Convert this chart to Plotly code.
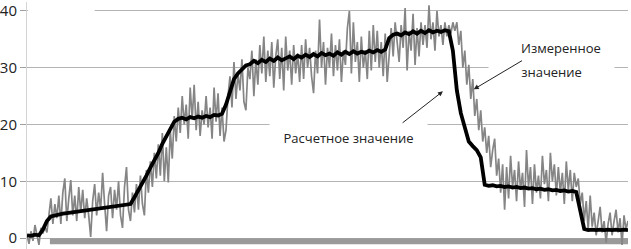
import plotly.graph_objects as go

# Measured value (grey, noisy), one sample every step
measured = [
    # start
    0.5, -1.0, 1.2, -0.5, 2.3, 0.2, -1.2, 1.8, 0.8,
    2.0, 1.0, 4.0, 7.0, 2.5,
    # low plateau
    6.0, 3.5, 7.5, 2.5, 8.0, 10.5, 3.0, 7.0, 10.2, 4.0,
    7.5, 3.0, 9.0, 4.5, 8.5, 3.5, 7.0, 4.0, 0.2, 6.5,
    9.5, 4.0, 8.0, 5.0, 11.5, 6.0, 1.2, 7.5, 9.0, 3.5,
    8.5, 5.0, 10.0, 4.0, 1.8, 9.0, 12.5, 5.0,
    # first ramp
    3.0, 8.0, 4.5, 9.5, 5.0, 11.0, 6.0, 4.0, 12.0, 8.0,
    13.5, 9.0, 15.0, 10.5, 16.5, 11.0, 18.5, 10.0, 16.0, 9.8,
    19.0, 14.0, 21.5,
    # ~21 plateau
    17.0, 23.0, 18.5, 25.0, 20.0, 23.5, 17.5, 26.5, 21.0, 27.0,
    19.0, 24.0, 18.0, 22.5, 20.0, 25.0, 19.5, 23.0, 17.5, 26.5,
    20.5, 25.5, 18.0, 23.0, 17.0,
    # second ramp
    19.0, 25.0, 28.5, 23.0, 31.0, 24.5, 29.0, 26.0, 31.5, 24.0,
    22.5, 30.0,
    # ~31 plateau
    28.0, 33.0, 25.0, 31.5, 27.0, 34.0, 29.0, 35.5, 27.5, 33.0,
    28.5, 34.5, 26.5, 32.0, 35.0, 28.0, 33.5, 26.0, 35.5, 29.5,
    33.0, 27.0, 34.0, 29.0, 32.5, 27.5, 34.0, 28.0, 35.0, 30.0,
    33.5, 28.5, 25.5, 33.0, 29.0, 38.5, 30.0, 34.5, 27.0, 33.5,
    30.0, 36.0, 28.5, 34.0, 29.5, 35.0, 27.5, 33.0, 30.5, 37.0,
    40.0, 29.0, 38.0, 31.0, 34.5, 27.5, 35.5, 30.0, 33.0, 28.0,
    36.5, 29.5, 37.5, 31.0, 36.5, 30.0, 34.5, 28.5, 36.0, 27.5,
    33.0,
    # ~36 plateau
    37.0, 32.0, 38.0, 34.5, 31.0, 37.5, 33.5, 40.5, 29.5, 36.5,
    33.0, 39.5, 30.5, 37.0, 32.0, 38.0, 34.0, 37.5, 33.5, 41.0,
    35.0, 38.0, 33.0, 40.0, 35.5, 37.5, 34.0, 38.0, 35.5, 37.5,
    36.0, 38.0,
    # fall
    36.5, 38.0, 34.0, 36.5, 30.0, 33.0, 27.0, 30.5, 24.5, 28.0,
    21.5, 24.5, 19.0, 22.5, 17.0, 19.5, 15.0, 18.0, 12.5, 15.5,
    # ~10 plateau
    17.5, 11.0, 14.0, 8.0, 13.0, 5.0, 12.5, 7.0, 14.5, 9.0,
    12.0, 6.5, 13.5, 8.5, 11.5, 5.5, 15.5, 9.0, 12.5, 6.0,
    13.0, 8.0, 11.0, 7.0, 14.5, 9.5, 12.0, 6.5, 15.0, 10.0,
    13.0, 7.5, 12.5, 8.0, 11.5, 6.0, 13.5, 8.5, 12.0, 6.5,
    11.5, 9.0,
    # last fall
    10.5, 6.0, 8.0, 3.0, 6.5, 1.5, 7.5,
    # tail
    2.0, 4.5, 0.5, 3.5, 5.5, 1.0, 3.0, -0.8, 2.5, 4.5,
    0.5, 3.0, 5.0, 1.0, 3.5, -1.2, 4.0, 1.5, 3.0,
]

# Calculated value (black), one sample every second step
calculated = [
    0.5, 0.4, 0.6, 0.5, 1.5, 3.0, 3.8, 4.0, 4.2, 4.3,
    4.4, 4.5, 4.6, 4.7, 4.8, 4.9, 5.0, 5.1, 5.2, 5.3,
    5.4, 5.5, 5.6, 5.7, 5.8, 5.9, 6.0, 7.2, 8.4, 9.8,
    11.0, 12.4, 13.6, 15.0, 16.6, 17.9, 19.2, 20.5, 21.0, 21.2,
    20.9, 21.3, 21.1, 21.4, 21.2, 21.5, 21.3, 21.7, 21.6, 21.9,
    23.5, 26.0, 28.0, 29.0, 29.8, 30.4, 30.6, 31.2, 30.8, 31.4,
    31.0, 31.6, 31.2, 31.8, 31.3, 31.7, 32.0, 31.5, 32.1, 31.8,
    32.3, 31.9, 32.4, 32.0, 32.6, 32.2, 32.5, 32.1, 32.7, 32.3,
    32.8, 32.4, 32.9, 32.5, 32.8, 32.6, 33.0, 32.7, 33.1, 32.8,
    33.2, 35.2, 35.8, 36.0, 35.7, 36.2, 35.9, 36.4, 36.0, 36.5,
    36.1, 36.6, 36.2, 36.5, 36.3, 36.6, 36.4, 33.0, 26.0, 22.0,
    19.5, 17.0, 16.2, 15.5, 14.2, 9.4, 9.2, 9.3, 9.1, 9.2,
    9.0, 9.1, 8.9, 9.0, 8.8, 8.9, 8.7, 8.8, 8.6, 8.7,
    8.5, 8.6, 8.4, 8.5, 8.3, 8.4, 8.2, 8.3, 8.1, 4.5,
    1.6, 1.4, 1.5, 1.4, 1.5, 1.4, 1.5, 1.4, 1.5, 1.4,
    1.5, 1.4,
]

y_ticks = [0, 10, 20, 30, 40]
y_tick_labels = ["0", "10", "20", "30", "40"]

label_calc = "Расчетное значение"
label_meas_1 = "Измеренное"
label_meas_2 = "значение"

n = len(measured)
x_meas = list(range(n))
x_calc = list(range(0, 2 * len(calculated), 2))

FONT = "Open Sans"

fig = go.Figure()
fig.add_trace(go.Scatter(x=x_meas, y=measured, mode="lines",
                         line=dict(color="#858585", width=1.7),
                         showlegend=False, hoverinfo="skip"))
fig.add_trace(go.Scatter(x=x_calc, y=calculated, mode="lines",
                         line=dict(color="#000000", width=3.8),
                         showlegend=False, hoverinfo="skip"))

shapes = [
    # thick grey baseline
    dict(type="line", xref="x", yref="y", x0=11.5, x1=n - 1, y0=-0.55, y1=-0.55,
         line=dict(color="#9a9a9a", width=6), layer="between"),
    # blank area at top-left
    dict(type="rect", xref="x", yref="y", x0=0.5, x1=34, y0=38.6, y1=41.4,
         fillcolor="white", line=dict(width=0), layer="between"),
]

annotations = [
    dict(x=161.5, y=17.6, xref="x", yref="y", text=label_calc, showarrow=False,
         font=dict(family=FONT, size=13, color="#222"), bgcolor="white",
         width=155, height=30, align="center"),
    dict(x=263.5, y=29.3, xref="x", yref="y", text=label_meas_2, showarrow=False,
         font=dict(family=FONT, size=13, color="#222"), bgcolor="white",
         width=123, height=22, align="center"),
    dict(x=268.5, y=33.4, xref="x", yref="y", text=label_meas_1, showarrow=False,
         font=dict(family=FONT, size=13, color="#222")),
    dict(x=209, y=25.85, ax=188, ay=20.1, xref="x", yref="y", axref="x", ayref="y",
         text="", showarrow=True, arrowhead=2, arrowsize=1, arrowwidth=1,
         arrowcolor="#222"),
    dict(x=224.5, y=26.2, ax=249.5, ay=31.4, xref="x", yref="y", axref="x", ayref="y",
         text="", showarrow=True, arrowhead=2, arrowsize=1, arrowwidth=1,
         arrowcolor="#222"),
]

fig.update_layout(
    width=631, height=249,
    margin=dict(l=24, r=3, t=0, b=0),
    paper_bgcolor="white", plot_bgcolor="white",
    shapes=shapes, annotations=annotations,
    xaxis=dict(range=[0, n - 1], showgrid=False, showticklabels=False,
               zeroline=False, showline=False, ticks=""),
    yaxis=dict(range=[-1.92, 41.57], tickvals=y_ticks, ticktext=y_tick_labels,
               showgrid=True, gridcolor="#b4b4b4", gridwidth=1,
               zeroline=False, showline=True, linecolor="#d4d4d4", linewidth=1,
               ticks="outside", ticklen=6, tickcolor="#a0a0a0",
               ticklabeloverflow="allow",
               tickfont=dict(family=FONT, size=15, color="#222")),
)

fig.write_html("out.html",
               config={"displayModeBar": False, "staticPlot": True},
               post_script="document.body.style.margin='0';document.body.style.overflow='hidden';")
